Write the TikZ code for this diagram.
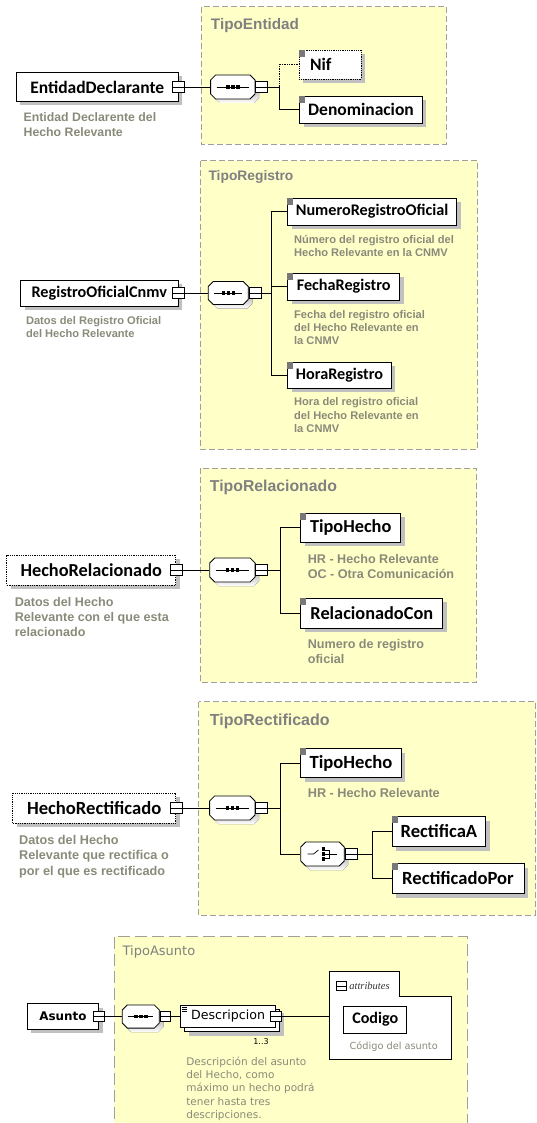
\documentclass[tikz,border=0pt]{standalone}
\usepackage{fontspec}
\usetikzlibrary{shadows}

\newfontfamily\namefont{Carlito}
\newfontfamily\descfont{Liberation Sans}
\newfontfamily\tahfont{DejaVu Sans}
\newfontfamily\attrfont{Liberation Serif}

\definecolor{typefill}{RGB}{255,255,200}
\definecolor{typeline}{RGB}{160,160,150}
\definecolor{typetext}{RGB}{128,128,128}
\definecolor{desctext}{RGB}{138,138,122}
\definecolor{shade}{RGB}{192,192,192}
\definecolor{markgrey}{RGB}{120,120,120}

\newcommand\elemmark[1]{\fill[markgrey] (#1.north west) rectangle ++(6,7);}

\tikzset{
  typebox/.style={draw=typeline, fill=typefill, dash pattern=on 6pt off 3pt},
  typetitle/.style={anchor=west, inner sep=0pt, text=typetext,
    font=\descfont\bfseries\fontsize{#1}{#1}\selectfont},
  plainelem/.style={draw, fill=white, inner sep=0pt, line width=0.8pt,
    font=\namefont\bfseries\fontsize{#1}{#1}\selectfont},
  elem/.style={plainelem=#1,
    drop shadow={shadow xshift=4pt, shadow yshift=-4pt, fill=shade, opacity=1}},
  optional/.style={densely dotted},
  desc/.style 2 args={anchor=north west, inner sep=0pt, align=left, text=desctext,
    font=\descfont\bfseries\fontsize{#1}{#2}\selectfont},
  tdesc/.style 2 args={anchor=north west, inner sep=0pt, align=left, text=desctext,
    font=\tahfont\fontsize{#1}{#2}\selectfont},
  expbox/.style={draw, fill=white, inner sep=0pt, minimum width=12pt, minimum height=11pt,
    path picture={\draw (path picture bounding box.west) -- (path picture bounding box.east);}},
  compnode/.style 2 args={inner sep=0pt, minimum width=2*#1, minimum height=2*#2},
  pics/octagon/.style 2 args={code={
    \fill[shade, shift={(4,4)}] (-#1+5,-#2) -- (#1-5,-#2) -- (#1,-#2+5) -- (#1,#2-5)
      -- (#1-5,#2) -- (-#1+5,#2) -- (-#1,#2-5) -- (-#1,-#2+5) -- cycle;
    \draw[fill=white, line width=0.8pt] (-#1+5,-#2) -- (#1-5,-#2) -- (#1,-#2+5) -- (#1,#2-5)
      -- (#1-5,#2) -- (-#1+5,#2) -- (-#1,#2-5) -- (-#1,-#2+5) -- cycle;
  }},
  pics/seqsym/.style={code={
    \draw (-#1+6,0) -- (#1-6,0);
    \foreach \dx in {-5,0,5}
      \fill (\dx-1.8,-1.8) rectangle (\dx+1.8,1.8);
  }},
  pics/choicesym/.style={code={
    \draw (-15,0) -- (-9,0) -- (-4,-4);
    \foreach \dy in {-5,0,5}
      \fill (-1,\dy-1.8) rectangle (2,\dy+1.8);
    \draw (2,-4) -- (7,-4) -- (7,4) -- (2,4);
    \draw (2,0) -- (14,0);
  }},
}

\begin{document}
\begin{tikzpicture}[x=1pt, y=-1pt, line width=0.7pt]
  \useasboundingbox (0,0) rectangle (537,1123);

  % TipoEntidad
  \draw[typebox] (201.4,6.7) rectangle (446.2,144);
  \node[typetitle=15.3] (t1) at (210.6,25.5) {TipoEntidad};
  \node[elem=17.5, minimum width=161.6, minimum height=29] (ed) at (97.2,87) {EntidadDeclarante};
  \node[expbox] (ed-x) at (ed.east) {};
  \node[desc={12.3}{15}] (ed-d) at (23.3,112.7) {Entidad Declarente del\\Hecho Relevante};
  \node[compnode={22.2}{12}] (seq1) at (232.8,87) {};
  \pic at (seq1) {octagon={22.2}{12}};
  \pic at (seq1) {seqsym=22.2};
  \node[expbox, anchor=west] (seq1-x) at (seq1.east) {};
  \node[elem=17.5, optional, text width=40pt, align=left, inner xsep=11pt, minimum height=29] (nif) at (330.1,64.5) {Nif};
  \node[elem=17.5, minimum width=122.6, minimum height=27] (den) at (361,109.5) {Denominacion};
  \elemmark{nif} \elemmark{den}
  \coordinate (b1) at (279,87);
  \draw (ed-x) -- (seq1);
  \draw (seq1-x) -- (b1) |- (den);
  \draw[densely dotted] (b1) |- (nif);

  % TipoRegistro
  \draw[typebox] (200.3,160.7) rectangle (477.7,449);
  \node[typetitle=13.8] (t2) at (208.2,177) {TipoRegistro};
  \node[elem=16.2, minimum width=157.5, minimum height=26] (roc) at (99.3,293) {RegistroOficialCnmv};
  \node[expbox] (roc-x) at (roc.east) {};
  \node[desc={11.1}{13.3}] (roc-d) at (25.7,315.9) {Datos del Registro Oficial\\del Hecho Relevante};
  \node[compnode={20}{11.5}] (seq2) at (228.3,293) {};
  \pic at (seq2) {octagon={20}{11.5}};
  \pic at (seq2) {seqsym=20};
  \node[expbox, anchor=west] (seq2-x) at (seq2.east) {};
  \node[elem=16.2, minimum width=168.8, minimum height=27] (nro) at (372.1,211.5) {NumeroRegistroOficial};
  \node[desc={11.1}{13.3}] (nro-d) at (293.8,234.7) {Número del registro oficial del\\Hecho Relevante en la CNMV};
  \node[elem=16.2, minimum width=112, minimum height=27] (fr) at (343.7,286.5) {FechaRegistro};
  \node[desc={11.1}{13.3}] (fr-d) at (293.8,309.9) {Fecha del registro oficial\\del Hecho Relevante en\\la CNMV};
  \node[elem=16.2, minimum width=103.7, minimum height=26] (hr) at (339.5,375) {HoraRegistro};
  \node[desc={11.1}{13.3}] (hr-d) at (293.8,397.6) {Hora del registro oficial\\del Hecho Relevante en\\la CNMV};
  \elemmark{nro} \elemmark{fr} \elemmark{hr}
  \coordinate (b2) at (271.2,293);
  \draw (roc-x) -- (seq2);
  \draw (seq2-x) -- (b2) |- (nro);
  \draw (b2) |- (fr);
  \draw (b2) |- (hr);

  % TipoRelacionado
  \draw[typebox] (200.3,468.3) rectangle (476.7,682.3);
  \node[typetitle=15.8] (t3) at (209.6,487.5) {TipoRelacionado};
  \node[elem=18.3, optional, minimum width=168.9, minimum height=30] (hrel) at (91.2,570) {HechoRelacionado};
  \node[expbox] (hrel-x) at (hrel.east) {};
  \node[desc={12.6}{15.3}] (hrel-d) at (14.4,596.6) {Datos del Hecho\\Relevante con el que esta\\relacionado};
  \node[compnode={22.7}{12}] (seq3) at (232.4,570) {};
  \pic at (seq3) {octagon={22.7}{12}};
  \pic at (seq3) {seqsym=22.7};
  \node[expbox, anchor=west] (seq3-x) at (seq3.east) {};
  \node[elem=18.3, minimum width=100, minimum height=29] (th3) at (350.7,527.5) {TipoHecho};
  \node[desc={12.6}{15}] (th3-d) at (307.5,554.2) {HR - Hecho Relevante\\OC - Otra Comunicación};
  \node[elem=18.3, minimum width=142, minimum height=30] (rc) at (371.8,613.3) {RelacionadoCon};
  \node[desc={12.6}{15}] (rc-d) at (307.5,639.2) {Numero de registro\\oficial};
  \elemmark{th3} \elemmark{rc}
  \coordinate (b3) at (280.8,570);
  \draw (hrel-x) -- (seq3);
  \draw (seq3-x) -- (b3) |- (th3);
  \draw (b3) |- (rc);

  % TipoRectificado
  \draw[typebox] (198.6,701.7) rectangle (535.5,915);
  \node[typetitle=16] (t4) at (209.6,721) {TipoRectificado};
  \node[elem=18.6, optional, minimum width=163, minimum height=30] (hrec) at (94.2,808) {HechoRectificado};
  \node[expbox] (hrec-x) at (hrec.east) {};
  \node[desc={12.7}{15.3}] (hrec-d) at (18.8,835) {Datos del Hecho\\Relevante que rectifica o\\por el que es rectificado};
  \node[compnode={22.7}{12}] (seq4) at (232.3,808) {};
  \pic at (seq4) {octagon={22.7}{12}};
  \pic at (seq4) {seqsym=22.7};
  \node[expbox, anchor=west] (seq4-x) at (seq4.east) {};
  \node[elem=18.6, minimum width=100.7, minimum height=29] (th4) at (351,763) {TipoHecho};
  \node[desc={12.7}{15}] (th4-d) at (307.5,788.4) {HR - Hecho Relevante};
  \node[compnode={21.7}{12}] (ch4) at (322.5,854) {};
  \pic at (ch4) {octagon={21.7}{12}};
  \pic at (ch4) {choicesym};
  \node[expbox, anchor=west] (ch4-x) at (ch4.east) {};
  \node[elem=18.6, minimum width=93.5, minimum height=30] (ra) at (438.9,831.5) {RectificaA};
  \node[elem=18.6, minimum width=132, minimum height=30] (rp) at (458,878.5) {RectificadoPor};
  \elemmark{th4} \elemmark{ra} \elemmark{rp}
  \coordinate (b4) at (280.8,808);
  \coordinate (b4c) at (372.3,854);
  \draw (hrec-x) -- (seq4);
  \draw (seq4-x) -- (b4) |- (th4);
  \draw (b4) |- (ch4);
  \draw (ch4-x) -- (b4c) |- (ra);
  \draw (b4c) |- (rp);

  % TipoAsunto
  \draw[typebox, dash pattern=on 12pt off 5pt] (114,936.7) rectangle (467.5,1135);
  \node[anchor=west, inner sep=0pt, text=typetext, font=\tahfont\fontsize{13}{13}\selectfont] (t5) at (122.3,952) {TipoAsunto};
  \node[elem=12, font=\tahfont\bfseries\fontsize{11.9}{14}\selectfont, minimum width=71.2, minimum height=25.3] (as) at (63,1016.5) {Asunto};
  \node[expbox, minimum width=11, minimum height=10] (as-x) at (as.east) {};
  \node[compnode={18.5}{11.6}] (seq5) at (140.8,1016.5) {};
  \pic at (seq5) {octagon={18.5}{11.6}};
  \pic at (seq5) {seqsym=18.5};
  \node[expbox, anchor=west, minimum width=10.3, minimum height=10] (seq5-x) at (seq5.east) {};
  \node[elem=12, minimum width=95.2, minimum height=22.7] (descr-back) at (232.1,1020.5) {};
  \node[plainelem=12, font=\tahfont\fontsize{12.6}{14}\selectfont, minimum width=95.2, minimum height=22.7] (descr) at (228.1,1016.5) {Descripcion};
  \node[expbox, minimum width=11, minimum height=10] (descr-x) at (descr.east) {};
  \foreach \dy in {2,4,6}
    \draw[line width=0.5pt] ([xshift=2pt,yshift=-\dy pt]descr.north west) -- ++(5,0);
  \node[inner sep=0pt, font=\tahfont\fontsize{8}{8}\selectfont] (descr-n) at (261,1041.7) {1..3};
  \node[tdesc={10.5}{13.3}] (descr-d) at (186,1056.6) {Descripción del asunto\\del Hecho, como\\máximo un hecho podrá\\tener hasta tres\\descripciones.};
  \draw[fill=white, line width=0.8pt] (329.5,971.7) -- (399,971.7) -- (399,996.7) -- (451.4,996.7) -- (451.4,1059.3) -- (329.5,1059.3) -- cycle;
  \node[expbox, minimum width=10.3, minimum height=8.3] (attr-x) at (341.5,985.9) {};
  \node[anchor=west, inner sep=0pt, text=black!80, font=\attrfont\itshape\fontsize{10.5}{10.5}\selectfont] (attr-t) at (349,986) {attributes};
  \node[plainelem=16.1, minimum width=63.3, minimum height=27.3] (cod) at (375.2,1019.7) {Codigo};
  \node[tdesc={9.75}{12}] (cod-d) at (349.3,1041.5) {Código del asunto};
  \coordinate (attr) at (329.5,1016.5);
  \draw (as-x) -- (seq5);
  \draw (seq5-x) -- (descr);
  \draw (descr-x) -- (attr);
\end{tikzpicture}
\end{document}
